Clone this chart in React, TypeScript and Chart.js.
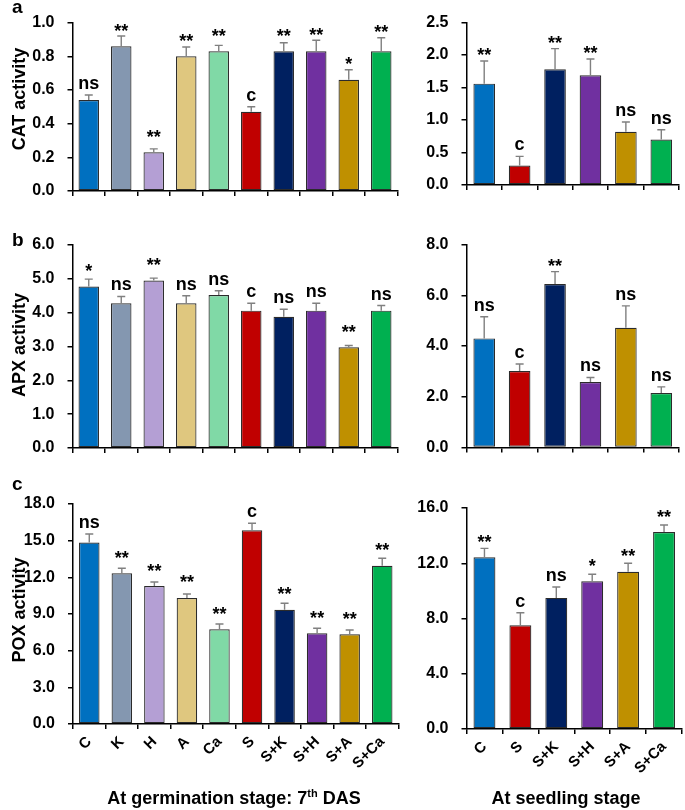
import React, { useEffect, useRef } from 'react';
import { Chart, registerables } from 'chart.js';

Chart.register(...registerables);

const FONT = '"Liberation Sans", Arial, Helvetica, sans-serif';
const PAGE_W = 685;
const PAGE_H = 810;

// ---------- data ----------
const GERM_CATS = ['C', 'K', 'H', 'A', 'Ca', 'S', 'S+K', 'S+H', 'S+A', 'S+Ca'];
const SEED_CATS = ['C', 'S', 'S+K', 'S+H', 'S+A', 'S+Ca'];

const CAT_GERM = [0.54, 0.86, 0.23, 0.8, 0.83, 0.47, 0.83, 0.83, 0.66, 0.83];
const CAT_GERM_ERR = [0.03, 0.06, 0.02, 0.055, 0.035, 0.03, 0.05, 0.065, 0.06, 0.08];
const CAT_GERM_SIG = ['ns', '**', '**', '**', '**', 'c', '**', '**', '*', '**'];
const CAT_GERM_TICKS = [0, 0.2, 0.4, 0.6, 0.8, 1.0];

const CAT_SEED = [1.56, 0.3, 1.78, 1.69, 0.82, 0.7];
const CAT_SEED_ERR = [0.35, 0.14, 0.32, 0.25, 0.15, 0.15];
const CAT_SEED_SIG = ['**', 'c', '**', '**', 'ns', 'ns'];
const CAT_SEED_TICKS = [0, 0.5, 1.0, 1.5, 2.0, 2.5];

const APX_GERM = [4.77, 4.28, 4.95, 4.28, 4.52, 4.06, 3.88, 4.06, 2.98, 4.06];
const APX_GERM_ERR = [0.22, 0.2, 0.07, 0.22, 0.13, 0.22, 0.22, 0.22, 0.05, 0.15];
const APX_GERM_SIG = ['*', 'ns', '**', 'ns', 'ns', 'c', 'ns', 'ns', '**', 'ns'];
const APX_GERM_TICKS = [0, 1, 2, 3, 4, 5, 6];

const APX_SEED = [4.3, 3.01, 6.44, 2.58, 4.72, 2.15];
const APX_SEED_ERR = [0.85, 0.28, 0.49, 0.18, 0.86, 0.24];
const APX_SEED_SIG = ['ns', 'c', '**', 'ns', 'ns', 'ns'];
const APX_SEED_TICKS = [0, 2, 4, 6, 8];

const POX_GERM = [14.84, 12.33, 11.29, 10.31, 7.75, 15.85, 9.35, 7.42, 7.34, 12.95];
const POX_GERM_ERR = [0.71, 0.41, 0.33, 0.33, 0.43, 0.57, 0.53, 0.41, 0.35, 0.61];
const POX_GERM_SIG = ['ns', '**', '**', '**', '**', 'c', '**', '**', '**', '**'];
const POX_GERM_TICKS = [0, 3, 6, 9, 12, 15, 18];

const POX_SEED = [12.43, 7.51, 9.49, 10.69, 11.39, 14.26];
const POX_SEED_ERR = [0.65, 0.91, 0.79, 0.51, 0.61, 0.51];
const POX_SEED_SIG = ['**', 'c', 'ns', '*', '**', '**'];
const POX_SEED_TICKS = [0, 4, 8, 12, 16];

const Y_TITLES = ['CAT activity', 'APX activity', 'POX activity'];
const PANEL_LETTERS = ['a', 'b', 'c'];
const GERM_TITLE = ['At germination stage: 7', 'th', ' DAS'];
const SEED_TITLE = 'At seedling stage';

const COLORS: Record<string, string> = {
  C: '#0070C0',
  K: '#8497B0',
  H: '#B49FD4',
  A: '#DFC77F',
  Ca: '#80D9A6',
  S: '#C00000',
  'S+K': '#002060',
  'S+H': '#7030A0',
  'S+A': '#BF9000',
  'S+Ca': '#00B050',
};

// ---------- layout ----------
type Box = { left: number; right: number; top: number; bottom: number };

const BOX_AL: Box = { left: 72.5, right: 397.5, top: 15, bottom: 191 };
const BOX_AR: Box = { left: 466.5, right: 679, top: 11.7, bottom: 185 };
const BOX_BL: Box = { left: 72.5, right: 397.5, top: 245, bottom: 448 };
const BOX_BR: Box = { left: 466.5, right: 679, top: 244.5, bottom: 447.5 };
const BOX_CL: Box = { left: 73, right: 398.5, top: 504, bottom: 724 };
const BOX_CR: Box = { left: 466.5, right: 682, top: 508, bottom: 729 };

const LETTER_POS = [
  [12, 12.5],
  [12, 245.5],
  [12, 490],
];
const YTITLE_POS = [
  [20, 99],
  [20, 345],
  [20, 610],
];

function drawDecorations(ctx: CanvasRenderingContext2D) {
  ctx.save();
  ctx.fillStyle = '#000';
  ctx.textBaseline = 'alphabetic';
  ctx.textAlign = 'left';
  ctx.font = `bold 19px ${FONT}`;
  PANEL_LETTERS.forEach((l, i) => ctx.fillText(l, LETTER_POS[i][0], LETTER_POS[i][1]));

  // rotated y titles
  ctx.font = `bold 18px ${FONT}`;
  ctx.textAlign = 'center';
  ctx.textBaseline = 'middle';
  Y_TITLES.forEach((t, i) => {
    ctx.save();
    ctx.translate(YTITLE_POS[i][0], YTITLE_POS[i][1]);
    ctx.rotate(-Math.PI / 2);
    ctx.fillText(t, 0, 0);
    ctx.restore();
  });

  const big = `bold 18px ${FONT}`;
  const small = `bold 11px ${FONT}`;
  const base = 804;
  ctx.textBaseline = 'alphabetic';
  ctx.textAlign = 'left';
  let total = 0;
  GERM_TITLE.forEach((t, i) => {
    ctx.font = i === 1 ? small : big;
    total += ctx.measureText(t).width;
  });
  let x = 234 - total / 2;
  GERM_TITLE.forEach((t, i) => {
    ctx.font = i === 1 ? small : big;
    ctx.fillText(t, x, i === 1 ? base - 7 : base);
    x += ctx.measureText(t).width;
  });
  ctx.font = big;
  ctx.textAlign = 'center';
  ctx.fillText(SEED_TITLE, 566, base);
  ctx.restore();
}

type PanelProps = {
  labels: string[];
  values: number[];
  errors: number[];
  sigs: string[];
  ticks: number[];
  box: Box;
  showX: boolean;
  barPct: number;
  decorate?: boolean;
};

function Panel(p: PanelProps) {
  const ref = useRef<HTMLCanvasElement>(null);
  useEffect(() => {
    const canvas = ref.current!;
    const yW = 60;
    const xH = p.showX ? 60 : 10;
    const tickMin = p.ticks[0];
    const tickMax = p.ticks[p.ticks.length - 1];

    const errPlugin = {
      id: 'errbarsAndSig',
      afterDatasetsDraw(chart: any) {
        const ctx: CanvasRenderingContext2D = chart.ctx;
        const meta = chart.getDatasetMeta(0);
        const ys = chart.scales.y;
        ctx.save();
        meta.data.forEach((bar: any, i: number) => {
          const v = p.values[i];
          const e = p.errors[i];
          const x = bar.x;
          const yTop = bar.y;
          const yErr = ys.getPixelForValue(v + e);
          ctx.strokeStyle = '#808080';
          ctx.lineWidth = 1.4;
          ctx.beginPath();
          ctx.moveTo(x, yTop);
          ctx.lineTo(x, yErr);
          ctx.moveTo(x - 4, yErr);
          ctx.lineTo(x + 4, yErr);
          ctx.stroke();

          const sig = p.sigs[i];
          ctx.fillStyle = '#000';
          ctx.textAlign = 'center';
          ctx.textBaseline = 'alphabetic';
          ctx.font = `bold 18px ${FONT}`;
          let base: number;
          if (sig.indexOf('*') >= 0) {
            base = Math.min(yErr - 7, yTop - 17) + 7.5;
          } else {
            base = yErr - 6;
          }
          ctx.fillText(sig, x, base);
        });
        ctx.restore();
      },
      afterDraw(chart: any) {
        if (p.decorate) drawDecorations(chart.ctx);
      },
    };

    const chart = new Chart(canvas, {
      type: 'bar',
      data: {
        labels: p.labels,
        datasets: [
          {
            data: p.values,
            backgroundColor: p.labels.map((l) => COLORS[l]),
            borderColor: '#2b2b2b',
            borderWidth: 1.2,
            borderSkipped: false,
            barPercentage: p.barPct,
            categoryPercentage: 1,
          },
        ],
      },
      options: {
        responsive: false,
        animation: false,
        devicePixelRatio: 1,
        events: [],
        layout: {
          padding: {
            left: p.box.left - yW,
            right: PAGE_W - p.box.right,
            top: p.box.top,
            bottom: PAGE_H - p.box.bottom - xH,
          },
        },
        plugins: {
          legend: { display: false },
          tooltip: { enabled: false },
          title: { display: false },
        },
        scales: {
          x: {
            grid: {
              display: true,
              drawOnChartArea: false,
              drawTicks: true,
              tickLength: 5,
              color: '#000',
              lineWidth: 1.5,
              offset: true,
            },
            border: { display: true, color: '#000', width: 1.5 },
            ticks: {
              display: p.showX,
              autoSkip: false,
              maxRotation: 45,
              minRotation: 45,
              padding: 4,
              color: '#000',
              font: { family: FONT, size: 15, weight: 'bold' },
            },
            afterFit: (s: any) => {
              s.height = xH;
            },
          },
          y: {
            min: tickMin,
            max: tickMax,
            afterBuildTicks: (s: any) => {
              s.ticks = p.ticks.map((v) => ({ value: v }));
            },
            ticks: {
              autoSkip: false,
              callback: (v: any) => Number(v).toFixed(1),
              padding: 13,
              color: '#000',
              font: { family: FONT, size: 16, weight: 'bold' },
            },
            grid: {
              display: true,
              drawOnChartArea: false,
              drawTicks: true,
              tickLength: 5,
              color: '#000',
              lineWidth: 1.5,
            },
            border: { display: true, color: '#000', width: 1.5 },
            afterFit: (s: any) => {
              s.width = yW;
            },
          },
        },
      } as any,
      plugins: [errPlugin as any],
    });
    return () => chart.destroy();
  }, []);
  return (
    <canvas
      ref={ref}
      width={PAGE_W}
      height={PAGE_H}
      style={{ position: 'absolute', left: 0, top: 0, width: PAGE_W, height: PAGE_H }}
    />
  );
}

export default function App() {
  return (
    <div
      style={{
        position: 'absolute',
        left: 0,
        top: 0,
        width: PAGE_W,
        height: PAGE_H,
        background: '#fff',
        overflow: 'hidden',
      }}
    >
      <Panel labels={GERM_CATS} values={CAT_GERM} errors={CAT_GERM_ERR} sigs={CAT_GERM_SIG} ticks={CAT_GERM_TICKS} box={BOX_AL} showX={false} barPct={0.63} />
      <Panel labels={SEED_CATS} values={CAT_SEED} errors={CAT_SEED_ERR} sigs={CAT_SEED_SIG} ticks={CAT_SEED_TICKS} box={BOX_AR} showX={false} barPct={0.61} />
      <Panel labels={GERM_CATS} values={APX_GERM} errors={APX_GERM_ERR} sigs={APX_GERM_SIG} ticks={APX_GERM_TICKS} box={BOX_BL} showX={false} barPct={0.63} />
      <Panel labels={SEED_CATS} values={APX_SEED} errors={APX_SEED_ERR} sigs={APX_SEED_SIG} ticks={APX_SEED_TICKS} box={BOX_BR} showX={false} barPct={0.61} />
      <Panel labels={GERM_CATS} values={POX_GERM} errors={POX_GERM_ERR} sigs={POX_GERM_SIG} ticks={POX_GERM_TICKS} box={BOX_CL} showX={true} barPct={0.63} />
      <Panel labels={SEED_CATS} values={POX_SEED} errors={POX_SEED_ERR} sigs={POX_SEED_SIG} ticks={POX_SEED_TICKS} box={BOX_CR} showX={true} barPct={0.61} decorate={true} />
    </div>
  );
}
